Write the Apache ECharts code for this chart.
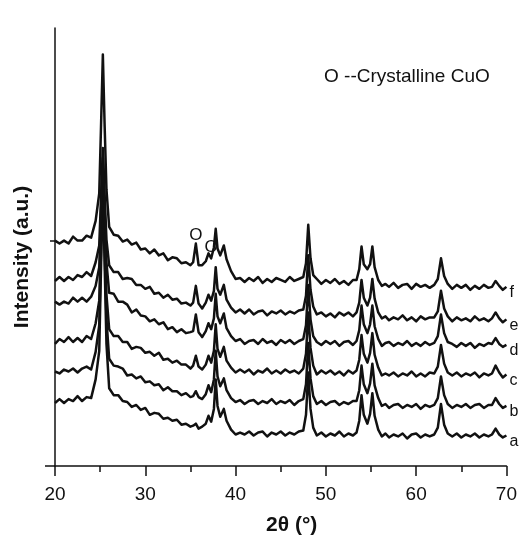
<!DOCTYPE html>
<html>
<head>
<meta charset="utf-8">
<script src="https://cdn.jsdelivr.net/npm/echarts@6/dist/echarts.min.js"></script>
<style>
  html, body { margin: 0; padding: 0; background: #fff; }
  #chart { width: 520px; height: 541px; }
</style>
</head>
<body>
<div id="chart"></div>
<script>
// Scan positions, 2θ in degrees (denser sampling around the reflections)
const twoTheta = [
  20, 20.5, 21, 21.5, 22, 22.5, 23, 23.5, 24, 24.5,
  24.9, 25.1, 25.3, 25.5, 25.7, 26, 26.5, 27, 27.5, 28,
  28.5, 29, 29.5, 30, 30.5, 31, 31.5, 32, 32.5, 33,
  33.5, 34, 34.5, 35, 35.3, 35.6, 35.9, 36.3, 36.7, 37,
  37.3, 37.6, 37.8, 38, 38.3, 38.7, 39, 39.5, 40, 40.5,
  41, 41.5, 42, 42.5, 43, 43.5, 44, 44.5, 45, 45.5,
  46, 46.5, 47, 47.5, 47.8, 48.05, 48.3, 48.6, 49, 49.5,
  50, 50.5, 51, 51.5, 52, 52.5, 53, 53.4, 53.7, 53.95,
  54.2, 54.6, 54.9, 55.15, 55.4, 55.8, 56.2, 56.6, 57, 57.5,
  58, 58.5, 59, 59.5, 60, 60.5, 61, 61.5, 62, 62.4,
  62.75, 63.1, 63.5, 64, 64.5, 65, 65.5, 66, 66.5, 67,
  67.5, 68, 68.4, 68.8, 69.2, 69.6, 70
];

// Stacked (offset) intensities, a.u.
const patternA = [
  64, 68, 64, 68, 66, 71, 66, 70, 69, 88,
  117, 203, 288, 204, 124, 79, 72, 72, 66, 65,
  60, 62, 57, 59, 52, 54, 53, 48, 49, 46,
  47, 42, 43, 40, 41, 43, 38, 40, 43, 51,
  45, 58, 88, 61, 50, 58, 46, 37, 32, 34,
  32, 35, 31, 34, 35, 30, 34, 32, 35, 31,
  34, 32, 35, 36, 52, 95, 58, 39, 31, 34,
  30, 33, 31, 35, 30, 33, 31, 34, 46, 72,
  52, 43, 53, 74, 51, 37, 30, 33, 29, 32,
  30, 33, 28, 32, 33, 29, 32, 30, 32, 39,
  63, 42, 33, 30, 33, 29, 32, 30, 33, 29,
  32, 30, 32, 38, 32, 29, 31
];
const patternB = [
  96, 94, 98, 96, 99, 95, 99, 101, 98, 116,
  143, 219, 295, 220, 149, 109, 102, 101, 99, 92,
  93, 89, 91, 85, 86, 82, 83, 77, 80, 76,
  76, 72, 74, 70, 71, 76, 70, 68, 73, 82,
  75, 88, 117, 91, 81, 89, 77, 69, 65, 67,
  63, 66, 67, 63, 66, 64, 68, 63, 66, 64,
  67, 62, 66, 68, 83, 125, 89, 71, 63, 66,
  62, 65, 66, 62, 65, 63, 66, 66, 77, 102,
  83, 74, 84, 104, 82, 69, 61, 63, 59, 62,
  63, 59, 62, 60, 63, 58, 62, 60, 62, 69,
  91, 72, 63, 59, 62, 60, 63, 59, 62, 63,
  59, 62, 62, 69, 63, 59, 61
];
const patternC = [
  124, 129, 126, 131, 126, 130, 126, 132, 129, 145,
  168, 235, 303, 236, 174, 139, 132, 132, 126, 126,
  119, 121, 120, 115, 116, 112, 115, 108, 109, 105,
  107, 103, 103, 99, 102, 112, 101, 98, 103, 112,
  105, 117, 144, 119, 111, 121, 107, 100, 95, 98,
  95, 98, 93, 97, 95, 99, 94, 97, 94, 98,
  95, 97, 94, 99, 114, 156, 120, 102, 93, 97,
  94, 97, 93, 96, 92, 97, 94, 97, 108, 133,
  114, 105, 115, 135, 113, 100, 92, 94, 92, 95,
  91, 94, 92, 96, 91, 94, 91, 95, 94, 101,
  123, 104, 95, 92, 95, 91, 94, 92, 95, 90,
  94, 92, 94, 102, 95, 90, 93
];
const patternD = [
  167, 164, 167, 165, 171, 167, 171, 167, 172, 183,
  202, 258, 313, 259, 207, 176, 175, 167, 167, 164,
  156, 159, 153, 152, 147, 149, 144, 146, 139, 141,
  136, 139, 135, 136, 137, 154, 136, 131, 137, 145,
  139, 150, 175, 152, 145, 155, 140, 132, 127, 129,
  124, 127, 128, 124, 129, 125, 127, 123, 128, 125,
  128, 124, 127, 129, 143, 184, 149, 132, 126, 123,
  127, 124, 127, 122, 126, 127, 123, 127, 138, 163,
  144, 135, 144, 163, 142, 129, 122, 125, 126, 122,
  125, 123, 127, 122, 125, 122, 126, 123, 125, 132,
  154, 135, 126, 124, 121, 125, 122, 125, 120, 124,
  122, 125, 124, 130, 124, 121, 123
];
const patternE = [
  188, 192, 188, 192, 189, 194, 192, 197, 193, 207,
  224, 274, 323, 275, 230, 204, 197, 197, 190, 191,
  190, 184, 184, 180, 182, 175, 176, 171, 174, 169,
  170, 165, 166, 163, 166, 183, 165, 160, 166, 174,
  168, 178, 202, 180, 174, 184, 169, 161, 156, 159,
  155, 159, 154, 157, 158, 153, 157, 155, 158, 154,
  157, 155, 158, 159, 173, 214, 179, 162, 154, 156,
  152, 155, 151, 156, 153, 156, 152, 156, 166, 189,
  171, 163, 171, 190, 170, 156, 150, 152, 148, 151,
  149, 153, 148, 151, 147, 152, 149, 151, 151, 157,
  178, 160, 152, 147, 151, 148, 150, 147, 152, 148,
  150, 147, 150, 156, 150, 146, 149
];
const patternF = [
  229, 226, 229, 226, 233, 229, 229, 234, 232, 249,
  277, 346, 418, 345, 281, 243, 235, 234, 228, 230,
  225, 227, 220, 221, 216, 220, 214, 216, 209, 212,
  211, 206, 207, 204, 207, 226, 204, 204, 208, 216,
  211, 222, 241, 221, 214, 224, 210, 198, 190, 191,
  187, 191, 188, 192, 186, 190, 187, 191, 189, 187,
  192, 188, 190, 192, 206, 245, 211, 194, 190, 185,
  189, 186, 190, 185, 188, 184, 189, 189, 200, 223,
  205, 200, 205, 223, 202, 189, 183, 185, 182, 186,
  181, 184, 185, 180, 185, 182, 184, 181, 184, 190,
  211, 193, 185, 180, 184, 181, 184, 179, 183, 180,
  184, 181, 182, 188, 183, 179, 182
];

const sampleNames = ['a', 'b', 'c', 'd', 'e', 'f'];
const patterns = [patternA, patternB, patternC, patternD, patternE, patternF];
const xTickValues = [20, 30, 40, 50, 60, 70];
const yTickValues = [0, 229];

// CuO reflections tagged on the top pattern (index into twoTheta)
const cuoMarks = [
  { index: 35, offsetY: -8 },
  { index: 40, offsetY: -11 }
];

const FONT = "'Liberation Sans', Arial, Helvetica, sans-serif";
const INK = '#111';

const chart = echarts.init(document.getElementById('chart'), null, { renderer: 'canvas' });

const series = patterns.map((vals, k) => {
  const s = {
    name: sampleNames[k],
    type: 'line',
    data: twoTheta.map((x, i) => [x, vals[i]]),
    symbol: 'none',
    smooth: false,
    lineStyle: { color: INK, width: 2.5, join: 'round' },
    endLabel: {
      show: true,
      formatter: p => p.seriesName,
      color: INK,
      fontFamily: FONT,
      fontSize: 16,
      distance: 3,
      offset: [0, 6]
    },
    z: 2
  };
  if (sampleNames[k] === 'f') {
    s.markPoint = {
      symbol: 'circle',
      symbolSize: 1,
      itemStyle: { color: 'rgba(0,0,0,0)' },
      silent: true,
      data: cuoMarks.map(m => ({
        coord: [twoTheta[m.index], vals[m.index]],
        label: {
          show: true,
          formatter: 'O',
          position: 'inside',
          offset: [0, m.offsetY],
          color: INK,
          fontFamily: FONT,
          fontSize: 17
        }
      }))
    };
  }
  return s;
});

chart.setOption({
  animation: false,
  backgroundColor: '#fff',
  grid: { left: 55, right: 13.5, top: 28, bottom: 68, containLabel: false },
  xAxis: {
    type: 'value',
    min: 20,
    max: 70,
    interval: 10,
    name: '2θ (°)',
    nameLocation: 'middle',
    nameGap: 49,
    nameTextStyle: {
      color: INK, fontFamily: FONT, fontSize: 21, fontWeight: 'bold',
      padding: [0, 0, 0, 22]
    },
    axisLine: { lineStyle: { color: INK, width: 1.5 } },
    axisTick: { show: true, length: 10, lineStyle: { color: INK, width: 1.5 } },
    minorTick: { show: true, splitNumber: 2, length: 6, lineStyle: { color: INK, width: 1.5 } },
    axisLabel: {
      customValues: xTickValues,
      color: INK, fontFamily: FONT, fontSize: 19, margin: 19
    },
    splitLine: { show: false },
    minorSplitLine: { show: false }
  },
  yAxis: [
    {
      type: 'value',
      min: 0,
      max: 445,
      name: 'Intensity (a.u.)',
      nameLocation: 'middle',
      nameGap: 22,
      nameTextStyle: {
        color: INK, fontFamily: FONT, fontSize: 21, fontWeight: 'bold',
        padding: [0, 20, 0, 0]
      },
      axisLine: { show: true, lineStyle: { color: INK, width: 1.5 } },
      axisTick: { show: true, customValues: [yTickValues[0]], length: 10, lineStyle: { color: INK, width: 1.5 } },
      axisLabel: { show: false },
      splitLine: { show: false }
    },
    {
      type: 'value',
      min: 0,
      max: 445,
      position: 'left',
      axisLine: { show: false },
      axisTick: { show: true, customValues: [yTickValues[1]], length: 5, lineStyle: { color: INK, width: 1.5 } },
      axisLabel: { show: false },
      splitLine: { show: false }
    }
  ],
  graphic: [
    {
      type: 'text',
      left: 324,
      top: 67,
      style: {
        text: 'O --Crystalline CuO',
        fill: INK,
        font: '19px ' + FONT
      }
    }
  ],
  series
});
</script>
</body>
</html>
